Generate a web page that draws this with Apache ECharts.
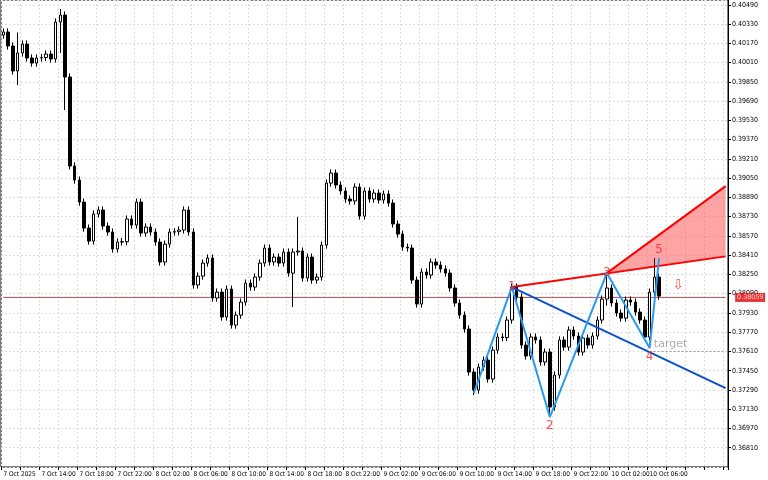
<!DOCTYPE html>
<html>
<head>
<meta charset="utf-8">
<script src="https://cdn.jsdelivr.net/npm/echarts@6/dist/echarts.min.js"></script>
<style>html,body{margin:0;padding:0;background:#fff}#chart{width:768px;height:480px}</style>
</head>
<body>
<div id="chart"></div>
<script>
// closes of 30 min candles, 7 Oct 2025 10:00 onwards (open = previous close)
var firstOpen = 0.40239;
var closes = [
  0.40264, 0.40148, 0.39940, 0.40090, 0.40164, 0.40048, 0.40006, 0.40048, 0.40052, 0.40081,
  0.40040, 0.40347, 0.40405, 0.39890, 0.39151, 0.39034, 0.38851, 0.38635, 0.38527, 0.38752,
  0.38785, 0.38652, 0.38602, 0.38461, 0.38519, 0.38522, 0.38710,
  0.38660, 0.38851, 0.38594, 0.38644, 0.38602, 0.38519, 0.38353, 0.38502, 0.38602, 0.38605,
  0.38619, 0.38785, 0.38602, 0.38162, 0.38236, 0.38344, 0.38386, 0.38054, 0.38103, 0.37896,
  0.38128, 0.37829, 0.37912, 0.38020, 0.38178, 0.38145, 0.38228, 0.38344, 0.38469, 0.38353,
  0.38394, 0.38344, 0.38436, 0.38261, 0.38436, 0.38444, 0.38220, 0.38394, 0.38203, 0.38228,
  0.38494, 0.39009, 0.39092, 0.38993, 0.38943, 0.38876, 0.38860, 0.38976, 0.38735, 0.38943,
  0.38876, 0.38926, 0.38868, 0.38918, 0.38843, 0.38669, 0.38585, 0.38477, 0.38469, 0.38203,
  0.38004, 0.38270, 0.38245, 0.38353, 0.38328, 0.38295, 0.38261, 0.38137, 0.38012, 0.37912,
  0.37796, 0.37439, 0.37289,
  0.37480, 0.37538, 0.37381, 0.37621, 0.37730, 0.37725, 0.37871, 0.38145, 0.38062, 0.37663,
  0.37572, 0.37730, 0.37705, 0.37522, 0.37605, 0.37148, 0.37414, 0.37705, 0.37646, 0.37788,
  0.37738, 0.37605, 0.37721, 0.37663, 0.37738, 0.37871, 0.38045, 0.38137, 0.38012, 0.37929,
  0.37887, 0.38037, 0.38020, 0.37937, 0.37871, 0.37730, 0.38103, 0.38228, 0.38070
];
// explicit wick extremes for the candles where they stand out: index -> [low, high]
var wicks = {
  3: [0.39824, 0.40260], 12: [0.40090, 0.40455], 13: [0.39616, 0.40420],
  61: [0.37979, 0.38460], 62: [0.38420, 0.38727], 99: [0.37248, 0.37460],
  107: [0.37900, 0.38153], 115: [0.37065, 0.37560], 127: [0.37990, 0.38270],
  137: [0.38070, 0.38386]
};
var wickPad = 0.00030;
var emptySlots = 14;
var lastLabelIndex = 136;

// wave points [category index, price]
var wave = [[99, 0.37264], [107, 0.38145], [115, 0.37065], [127, 0.38261], [136, 0.37638], [138, 0.38386]];
var waveNames = ['', '1', '2', '3', '4', '5'];
var redLow = [[107, 0.38145], [152, 0.38400]];
var redHigh = [[127, 0.38261], [152, 0.38984]];
var blueLine = [[107, 0.38145], [152, 0.37306]];
var targetPrice = 0.37610;
var lastPrice = 0.38059;

var months = ['Jan','Feb','Mar','Apr','May','Jun','Jul','Aug','Sep','Oct','Nov','Dec'];
var cats = [];
var t0 = Date.UTC(2025, 9, 7, 10, 0);
for (var i = 0; i < closes.length + emptySlots; i++) {
  var d = new Date(t0 + i * 1800000);
  var hh = ('0' + d.getUTCHours()).slice(-2), mm = ('0' + d.getUTCMinutes()).slice(-2);
  cats.push(i === 0 ? d.getUTCDate() + ' ' + months[d.getUTCMonth()] + ' ' + d.getUTCFullYear()
                    : d.getUTCDate() + ' ' + months[d.getUTCMonth()] + ' ' + hh + ':' + mm);
}

var ohlc = [];
for (var i = 0; i < closes.length; i++) {
  var o = i === 0 ? firstOpen : closes[i - 1], c = closes[i];
  var lo = Math.min(o, c) - wickPad, hi = Math.max(o, c) + wickPad;
  if (wicks[i]) { lo = Math.min(lo, wicks[i][0]); hi = Math.max(hi, wicks[i][1]); }
  ohlc.push([o, c, lo, hi]);
}

var myChart = echarts.init(document.getElementById('chart'));
var lbl = { color: '#000', fontSize: 7, fontFamily: 'DejaVu Sans Condensed' };

option = {
  animation: false,
  grid: { left: 1, right: 40, top: 0, bottom: 13, show: true, borderColor: '#000', borderWidth: 1 },
  xAxis: {
    type: 'category', data: cats, boundaryGap: true,
    axisLine: { show: false },
    axisTick: { show: true, interval: 3, length: 3, lineStyle: { color: '#000' } },
    axisLabel: Object.assign({
      interval: function (i) { return i % 8 === 0 && i <= lastLabelIndex; },
      align: 'left', margin: 4, showMinLabel: true, hideOverlap: false }, lbl, { fontSize: 6.5 }),
    splitLine: { show: true, interval: 3, lineStyle: { color: '#ddd', type: [2, 2] } }
  },
  yAxis: {
    type: 'value', position: 'right', scale: true,
    min: 0.36650, max: 0.40530, interval: 0.0016,
    axisLine: { show: true, lineStyle: { color: '#000' } },
    axisTick: { show: true, length: 3, lineStyle: { color: '#000' } },
    axisLabel: Object.assign({ margin: 4, showMinLabel: false, showMaxLabel: false,
      formatter: function (v) { return v.toFixed(5); } }, lbl),
    splitLine: { show: true, lineStyle: { color: '#ddd', type: [2, 2] } }
  },
  series: [
    {
      type: 'custom', z: 1,
      renderItem: function (params, api) {
        var pts = [redHigh[0], redHigh[1], redLow[1]].map(function (p) { return api.coord(p); });
        return { type: 'polygon', shape: { points: pts }, style: { fill: 'rgba(255,90,90,0.55)' } };
      },
      data: [0]
    },
    {
      type: 'line', data: [[0, lastPrice], [152, lastPrice]], symbol: 'none', z: 1,
      lineStyle: { color: '#b05050', width: 1 }
    },
    {
      type: 'candlestick', data: ohlc, barWidth: 3, z: 2,
      itemStyle: { color: '#fff', color0: '#000', borderColor: '#000', borderColor0: '#000', borderWidth: 1 }
    },
    { type: 'line', data: redLow, symbol: 'none', z: 3, lineStyle: { color: '#ff0000', width: 2 } },
    { type: 'line', data: redHigh, symbol: 'none', z: 3, lineStyle: { color: '#ff0000', width: 2 } },
    { type: 'line', data: blueLine, symbol: 'none', z: 3, lineStyle: { color: '#0a50d0', width: 2 } },
    { type: 'line', data: [[136, targetPrice], [152, targetPrice]], symbol: 'none', z: 3,
      lineStyle: { color: '#999', width: 1, type: [2, 2] } },
    {
      type: 'line', data: wave, z: 4, symbol: 'none',
      lineStyle: { color: '#2a9af0', width: 2 }
    },
    {
      type: 'scatter', z: 5, symbolSize: 1, itemStyle: { color: 'transparent' },
      data: wave.map(function (p, i) {
        var pos = (i === 2 || i === 4) ? 'bottom' : 'inside';
        if (i === 5) pos = 'top';
        return { value: p, label: { show: i > 0, formatter: waveNames[i], position: pos,
          color: '#ff2020', fontSize: 12, fontFamily: 'DejaVu Sans', distance: 2 } };
      })
    },
    {
      type: 'scatter', z: 5, symbolSize: 1, itemStyle: { color: 'transparent' },
      data: [
        { value: [137, targetPrice], label: { show: true, formatter: 'target', position: 'right',
          color: '#999', fontSize: 11, fontFamily: 'DejaVu Sans', offset: [-6, -7] } },
        { value: [142, 0.38160], label: { show: true, formatter: '⇩', position: 'inside',
          color: '#ff3020', fontSize: 14, fontFamily: 'DejaVu Sans' } }
      ]
    },
    {
      type: 'scatter', z: 6, symbolSize: 1, itemStyle: { color: 'transparent' },
      data: [{ value: [152, lastPrice], label: { show: true, formatter: lastPrice.toFixed(5),
        position: 'right', offset: [4, 0], color: '#fff', backgroundColor: '#e00000',
        fontSize: 7, fontFamily: 'DejaVu Sans Condensed', padding: [1, 2] } }]
    }
  ]
};

myChart.setOption(option);
window.addEventListener('resize', function () { myChart.resize(); });
</script>
</body>
</html>
